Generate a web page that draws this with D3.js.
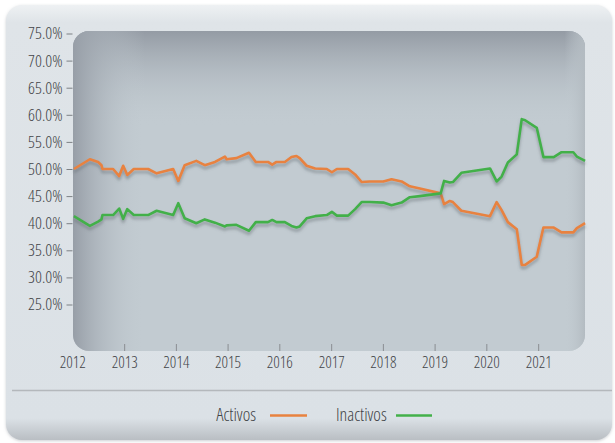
<!DOCTYPE html>
<html>
<head>
<meta charset="utf-8">
<script src="https://cdn.jsdelivr.net/npm/d3@7"></script>
<style>
  body { margin: 0; background: #ffffff; }
  svg text { font-family: "Open Sans", sans-serif; font-stretch: condensed; font-weight: 350; fill: #424447; }
</style>
</head>
<body>
<div id="app"></div>
<script>
// dates of the points
var fechas = ["2012-01-12","2012-05-04","2012-07-01","2012-07-25","2012-08-01","2012-10-15","2012-11-27","2012-12-25",
  "2013-01-23","2013-03-10","2013-06-19","2013-08-18","2013-12-13","2014-01-18","2014-03-04","2014-05-25",
  "2014-07-24","2014-10-04","2014-12-13","2014-12-25","2015-03-04","2015-06-01","2015-07-19","2015-10-13",
  "2015-11-12","2015-12-12","2016-02-09","2016-03-27","2016-05-01","2016-05-24","2016-07-12","2016-09-10",
  "2016-12-01","2017-01-06","2017-02-10","2017-05-01","2017-06-19","2017-08-04","2017-10-01","2018-01-04",
  "2018-03-03","2018-05-13","2018-07-10","2018-09-19","2019-02-13","2019-03-09","2019-04-18","2019-05-10",
  "2019-07-09","2020-01-27","2020-03-14","2020-04-18","2020-06-01","2020-08-03","2020-09-07","2020-10-01",
  "2020-12-22","2021-02-07","2021-04-21","2021-06-15","2021-09-06","2021-10-01","2021-11-28"];

var activos = [50.0,51.8,51.3,50.7,50.0,50.0,48.7,50.6,
  48.9,50.0,50.0,49.2,50.0,47.8,50.7,51.5,
  50.7,51.3,52.3,51.8,52.0,53.0,51.3,51.3,
  50.8,51.3,51.3,52.2,52.4,52.0,50.6,50.1,
  50.0,49.4,50.0,50.0,49.0,47.6,47.7,47.7,
  48.1,47.7,46.8,46.4,45.5,43.5,44.1,43.9,
  42.3,41.3,43.9,42.4,40.2,38.9,32.3,32.3,
  33.8,39.2,39.2,38.3,38.3,39.1,40.0];

var inactivos = [41.3,39.5,40.3,40.7,41.5,41.5,42.7,40.8,
  42.6,41.5,41.5,42.3,41.5,43.7,40.9,40.0,
  40.7,40.1,39.4,39.6,39.7,38.6,40.2,40.2,
  40.6,40.2,40.2,39.5,39.2,39.4,40.9,41.3,
  41.5,42.1,41.4,41.4,42.6,43.9,43.9,43.8,
  43.3,43.8,44.8,45.0,45.5,47.8,47.5,47.6,
  49.3,50.1,47.7,48.6,51.2,52.7,59.2,59.0,
  57.6,52.2,52.2,53.1,53.1,52.3,51.5];

var yTicks = [25,30,35,40,45,50,55,60,65,70,75];
var series = ["Activos","Inactivos"];
var colores = ["#e8823f","#43b04a"];

var W = 615, H = 443;
var parseDate = d3.timeParse("%Y-%m-%d");

var x = d3.scaleTime()
  .domain([new Date(2012,0,1), new Date(2021,11,1)])
  .range([72.3, 585.5]);
var y = d3.scaleLinear()
  .domain([25,75])
  .range([304.5, 33.5]);

var svg = d3.select("#app").append("svg")
  .attr("width", W).attr("height", H);

var defs = svg.append("defs");

// outer card gradient
var cardGrad = defs.append("linearGradient").attr("id","cardGrad")
  .attr("x1",0).attr("y1",0).attr("x2",0).attr("y2",1);
cardGrad.append("stop").attr("offset","0").attr("stop-color","#eef1f3");
cardGrad.append("stop").attr("offset","0.04").attr("stop-color","#dfe4e8");
cardGrad.append("stop").attr("offset","0.95").attr("stop-color","#dbe1e6");
cardGrad.append("stop").attr("offset","1").attr("stop-color","#b9bec3");

// panel gradients
var topGrad = defs.append("linearGradient").attr("id","topGrad")
  .attr("x1",0).attr("y1",0).attr("x2",0).attr("y2",1);
topGrad.append("stop").attr("offset","0").attr("stop-color","#949ba4").attr("stop-opacity",1);
topGrad.append("stop").attr("offset","0.3").attr("stop-color","#c2cbd1").attr("stop-opacity",0);
var leftGrad = defs.append("linearGradient").attr("id","leftGrad")
  .attr("x1",0).attr("y1",0).attr("x2",1).attr("y2",0);
leftGrad.append("stop").attr("offset","0").attr("stop-color","#979ea7").attr("stop-opacity",1);
leftGrad.append("stop").attr("offset","0.14").attr("stop-color","#c2cbd1").attr("stop-opacity",0);
leftGrad.append("stop").attr("offset","0.96").attr("stop-color","#c2cbd1").attr("stop-opacity",0);
leftGrad.append("stop").attr("offset","1").attr("stop-color","#b3bbc1").attr("stop-opacity",1);

defs.append("clipPath").attr("id","panelClip")
  .append("rect").attr("x",73).attr("y",31).attr("width",512).attr("height",320).attr("rx",16);

var shadow = defs.append("filter").attr("id","sombra")
  .attr("x","-5%").attr("y","-20%").attr("width","110%").attr("height","140%");
shadow.append("feDropShadow").attr("dx",0).attr("dy",3).attr("stdDeviation",1.6)
  .attr("flood-color","#5d656c").attr("flood-opacity",0.5);

var cardShadow = defs.append("filter").attr("id","cardSombra")
  .attr("x","-5%").attr("y","-5%").attr("width","110%").attr("height","110%");
cardShadow.append("feDropShadow").attr("dx",0).attr("dy",1).attr("stdDeviation",1.5)
  .attr("flood-color","#9aa0a6").attr("flood-opacity",0.5);

// outer card
svg.append("rect")
  .attr("x",6).attr("y",5).attr("width",606).attr("height",435).attr("rx",16)
  .attr("fill","url(#cardGrad)")
  .attr("filter","url(#cardSombra)");

// panel
var panel = svg.append("g").attr("clip-path","url(#panelClip)");
panel.append("rect").attr("x",73).attr("y",31).attr("width",512).attr("height",320).attr("fill","#c2cbd1");
panel.append("rect").attr("x",73).attr("y",31).attr("width",512).attr("height",320).attr("fill","url(#topGrad)");
panel.append("rect").attr("x",73).attr("y",31).attr("width",512).attr("height",320).attr("fill","url(#leftGrad)");

// separator
svg.append("line")
  .attr("x1",12).attr("x2",612).attr("y1",390.5).attr("y2",390.5)
  .attr("stroke","#b4b8bc").attr("stroke-width",1.5);

// y axis
var yAxis = svg.append("g")
  .attr("transform","translate(72.5,0)")
  .call(d3.axisLeft(y).tickValues(yTicks).tickSize(6).tickPadding(4)
    .tickFormat(function(d){ return d.toFixed(1) + "%"; }));
yAxis.select(".domain").remove();
yAxis.selectAll(".tick line").attr("stroke","#7d8185");
yAxis.selectAll(".tick text").attr("font-size",17).style("font-family", null);

// x axis
var xAxis = svg.append("g")
  .attr("transform","translate(0,351)")
  .call(d3.axisBottom(x).ticks(d3.timeYear.every(1)).tickSizeInner(-7).tickSizeOuter(0).tickPadding(6)
    .tickFormat(d3.timeFormat("%Y")));
xAxis.select(".domain").remove();
xAxis.selectAll(".tick line").attr("stroke","#8a8e92")
  .filter(function(d){ return d.getFullYear() === 2012; }).remove();
xAxis.selectAll(".tick text").attr("font-size",16).style("font-family", null);

// lines
var datos = [activos, inactivos];
var linea = d3.line()
  .x(function(d){ return x(parseDate(d[0])); })
  .y(function(d){ return y(d[1]); });

svg.append("g").selectAll("path.serie")
  .data(datos)
  .enter()
  .append("path")
    .attr("class","serie")
    .attr("d", function(vals){ return linea(d3.zip(fechas, vals)); })
    .attr("fill","none")
    .attr("stroke", function(d,i){ return colores[i]; })
    .attr("stroke-width",2.6)
    .attr("stroke-linejoin","round")
    .attr("filter","url(#sombra)");

// legend
var leg = svg.append("g");
leg.append("text").attr("x",256).attr("y",421).attr("text-anchor","end")
  .attr("font-size",18).text(series[0]);
leg.append("line").attr("x1",270).attr("x2",307).attr("y1",415.5).attr("y2",415.5)
  .attr("stroke",colores[0]).attr("stroke-width",2.5);
leg.append("text").attr("x",336).attr("y",421).attr("text-anchor","start")
  .attr("font-size",18).text(series[1]);
leg.append("line").attr("x1",396).attr("x2",432).attr("y1",415.5).attr("y2",415.5)
  .attr("stroke",colores[1]).attr("stroke-width",2.5);
</script>
</body>
</html>
